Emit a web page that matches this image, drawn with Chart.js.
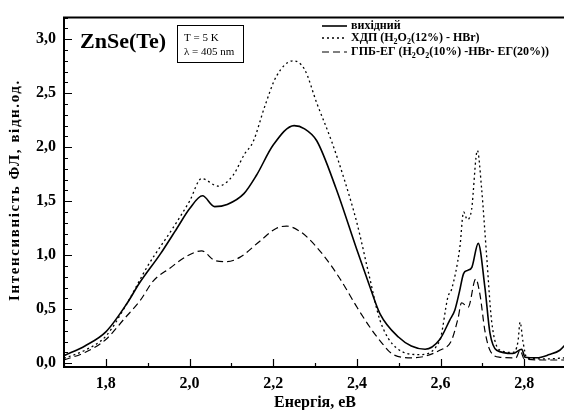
<!DOCTYPE html>
<html>
<head>
<meta charset="utf-8">
<script src="https://cdn.jsdelivr.net/npm/chart.js@4.4.1/dist/chart.umd.min.js"></script>
<style>
  html, body { margin: 0; padding: 0; background: #fff; }
  #wrap { width: 564px; height: 410px; }
</style>
</head>
<body>
<div id="wrap"><canvas id="plot" width="564" height="410"></canvas></div>
<script>
// ---- data ----
const xTicks = [1.8, 2.0, 2.2, 2.4, 2.6, 2.8];
const yTicks = [0.0, 0.5, 1.0, 1.5, 2.0, 2.5, 3.0];

const seriesNames = [
  "вихідний",
  "ХДП (H_2O_2(12%) - HBr)",
  "ГПБ-ЕГ (H_2O_2(10%) -HBr- ЕГ(20%))"
];
const xTitle = "Енергія, еВ";
const yTitle = "Інтенсивність ФЛ, відн.од.";

const energyInit = [1.70, 1.75, 1.80, 1.85, 1.88, 1.93, 1.97, 2.00, 2.031, 2.06, 2.09, 2.13, 2.16, 2.20, 2.25, 2.275, 2.304, 2.35, 2.40, 2.43, 2.455, 2.50, 2.53, 2.563, 2.598, 2.622, 2.634, 2.645, 2.655, 2.665, 2.675, 2.69, 2.706, 2.718, 2.734, 2.773, 2.794, 2.802, 2.83, 2.86, 2.885, 2.9];
const plInit = [0.07, 0.16, 0.29, 0.55, 0.74, 1.01, 1.25, 1.43, 1.55, 1.45, 1.47, 1.57, 1.74, 2.02, 2.20, 2.17, 2.06, 1.62, 1.05, 0.72, 0.46, 0.24, 0.16, 0.13, 0.22, 0.40, 0.49, 0.66, 0.83, 0.86, 0.89, 1.11, 0.70, 0.28, 0.12, 0.09, 0.13, 0.055, 0.05, 0.08, 0.12, 0.18];

const energyHdp = [1.70, 1.75, 1.80, 1.85, 1.90, 1.96, 2.00, 2.029, 2.068, 2.104, 2.132, 2.152, 2.18, 2.208, 2.248, 2.275, 2.304, 2.34, 2.37, 2.40, 2.43, 2.455, 2.495, 2.55, 2.598, 2.618, 2.626, 2.646, 2.655, 2.664, 2.674, 2.688, 2.698, 2.71, 2.722, 2.742, 2.773, 2.785, 2.79, 2.797, 2.806, 2.85, 2.9];
const plHdp = [0.045, 0.12, 0.25, 0.55, 0.90, 1.25, 1.50, 1.71, 1.64, 1.74, 1.94, 2.05, 2.38, 2.66, 2.80, 2.72, 2.41, 2.05, 1.70, 1.30, 0.80, 0.40, 0.14, 0.08, 0.21, 0.62, 0.68, 1.07, 1.40, 1.33, 1.42, 1.97, 1.62, 1.00, 0.39, 0.12, 0.10, 0.20, 0.38, 0.20, 0.05, 0.04, 0.05];

const energyGpb = [1.70, 1.75, 1.80, 1.846, 1.882, 1.913, 1.953, 1.993, 2.029, 2.061, 2.089, 2.12, 2.168, 2.208, 2.232, 2.264, 2.283, 2.32, 2.36, 2.40, 2.43, 2.455, 2.487, 2.534, 2.598, 2.626, 2.642, 2.65, 2.666, 2.684, 2.694, 2.706, 2.718, 2.742, 2.78, 2.79, 2.80, 2.85, 2.9];
const plGpb = [0.03, 0.10, 0.22, 0.42, 0.58, 0.76, 0.88, 0.99, 1.04, 0.95, 0.94, 0.98, 1.13, 1.25, 1.27, 1.22, 1.16, 1.00, 0.78, 0.52, 0.34, 0.21, 0.08, 0.05, 0.12, 0.21, 0.42, 0.56, 0.52, 0.78, 0.64, 0.30, 0.12, 0.055, 0.05, 0.12, 0.04, 0.03, 0.03];

// ---- look ----
const serif = "'Liberation Serif', 'Times New Roman', serif";
const dashes = [[], [2, 3], [7, 4]];
const widths = [1.6, 1.3, 1.2];

const pts = (xs, ys) => xs.map((x, i) => ({ x, y: ys[i] }));
const comma = v => v.toFixed(1).replace(".", ",");

// draws text where "_2" becomes a subscript 2
function richText(ctx, str, x, y, size) {
  const parts = str.split(/(_\d)/);
  let cx = x;
  parts.forEach(p => {
    if (!p) return;
    if (p[0] === "_") {
      ctx.font = `bold ${Math.round(size * 0.65)}px ${serif}`;
      ctx.fillText(p.slice(1), cx, y + size * 0.3);
      cx += ctx.measureText(p.slice(1)).width;
    } else {
      ctx.font = `bold ${size}px ${serif}`;
      ctx.fillText(p, cx, y);
      cx += ctx.measureText(p).width;
    }
  });
}

const decor = {
  id: "decor",
  afterDraw(chart) {
    const { ctx, chartArea: a, scales: { x, y } } = chart;
    ctx.save();

    // frame (right side falls outside the picture)
    ctx.strokeStyle = "#000";
    ctx.lineWidth = 2;
    ctx.beginPath();
    ctx.moveTo(564, a.top); ctx.lineTo(a.left, a.top);
    ctx.lineTo(a.left, a.bottom); ctx.lineTo(564, a.bottom);
    ctx.stroke();

    // inward ticks
    ctx.lineWidth = 1.2;
    ctx.beginPath();
    for (let v = 1.7; v <= 2.9001; v += 0.1) {
      const px = Math.round(x.getPixelForValue(v)) + 0.5;
      const major = Math.abs(v * 5 - Math.round(v * 5)) < 1e-6;
      const len = major ? 8 : 4;
      ctx.moveTo(px, a.bottom); ctx.lineTo(px, a.bottom - len);
    }
    for (let v = 0; v <= 3.2001; v += 0.1) {
      const py = Math.round(y.getPixelForValue(v)) + 0.5;
      const major = Math.abs(v * 2 - Math.round(v * 2)) < 1e-6;
      const len = major ? 8 : 4;
      ctx.moveTo(a.left, py); ctx.lineTo(a.left + len, py);
    }
    ctx.stroke();

    ctx.fillStyle = "#000";
    ctx.textBaseline = "middle";

    // axis titles
    ctx.textAlign = "center";
    ctx.font = `bold 16px ${serif}`;
    ctx.fillText(xTitle, 315, 403);
    ctx.save();
    ctx.translate(15, 190);
    ctx.rotate(-Math.PI / 2);
    ctx.font = `bold 15px ${serif}`;
    ctx.letterSpacing = "1.6px";
    ctx.fillText(yTitle, 0, 0);
    ctx.restore();

    // sample label
    ctx.textAlign = "left";
    ctx.font = `bold 22px ${serif}`;
    ctx.fillText("ZnSe(Te)", 80, 42);

    // conditions box
    ctx.lineWidth = 1;
    ctx.strokeRect(177.5, 25.5, 66, 37);
    ctx.font = `11px ${serif}`;
    ctx.fillText("T = 5 K", 184, 38);
    ctx.fillText("λ = 405 nm", 184, 52);

    // legend
    const rows = [26, 38, 52];
    rows.forEach((ry, i) => {
      ctx.beginPath();
      ctx.setLineDash(dashes[i]);
      ctx.lineWidth = widths[i];
      ctx.moveTo(322, ry); ctx.lineTo(347, ry);
      ctx.stroke();
      ctx.setLineDash([]);
      richText(ctx, seriesNames[i], 351, ry, 12);
    });

    ctx.restore();
  }
};

new Chart(document.getElementById("plot"), {
  type: "line",
  data: {
    datasets: [
      { label: seriesNames[0], data: pts(energyInit, plInit), borderDash: dashes[0], borderWidth: widths[0] },
      { label: seriesNames[1], data: pts(energyHdp, plHdp), borderDash: dashes[1], borderWidth: widths[1] },
      { label: seriesNames[2], data: pts(energyGpb, plGpb), borderDash: dashes[2], borderWidth: widths[2] }
    ].map(d => ({ ...d, borderColor: "#000", pointRadius: 0, fill: false, cubicInterpolationMode: "monotone" }))
  },
  options: {
    responsive: false,
    animation: false,
    devicePixelRatio: 1,
    layout: { padding: { top: 14, right: 0, bottom: 0, left: 0 } },
    plugins: { legend: { display: false }, tooltip: { enabled: false } },
    scales: {
      x: {
        type: "linear",
        min: 1.7,
        max: 2.895,
        afterFit: s => { s.height = 43; },
        afterBuildTicks: s => { s.ticks = xTicks.map(value => ({ value })); },
        grid: { display: false, drawTicks: false },
        border: { display: false },
        ticks: {
          color: "#000",
          padding: 7,
          maxRotation: 0,
          font: { family: serif, size: 16, weight: "bold" },
          callback: v => comma(v)
        }
      },
      y: {
        type: "linear",
        min: -0.035,
        max: 3.2,
        afterFit: s => { s.width = 64; },
        afterBuildTicks: s => { s.ticks = yTicks.map(value => ({ value })); },
        grid: { display: false, drawTicks: false },
        border: { display: false },
        ticks: {
          color: "#000",
          padding: 8,
          font: { family: serif, size: 16, weight: "bold" },
          callback: v => comma(v)
        }
      }
    }
  },
  plugins: [decor]
});
</script>
</body>
</html>
